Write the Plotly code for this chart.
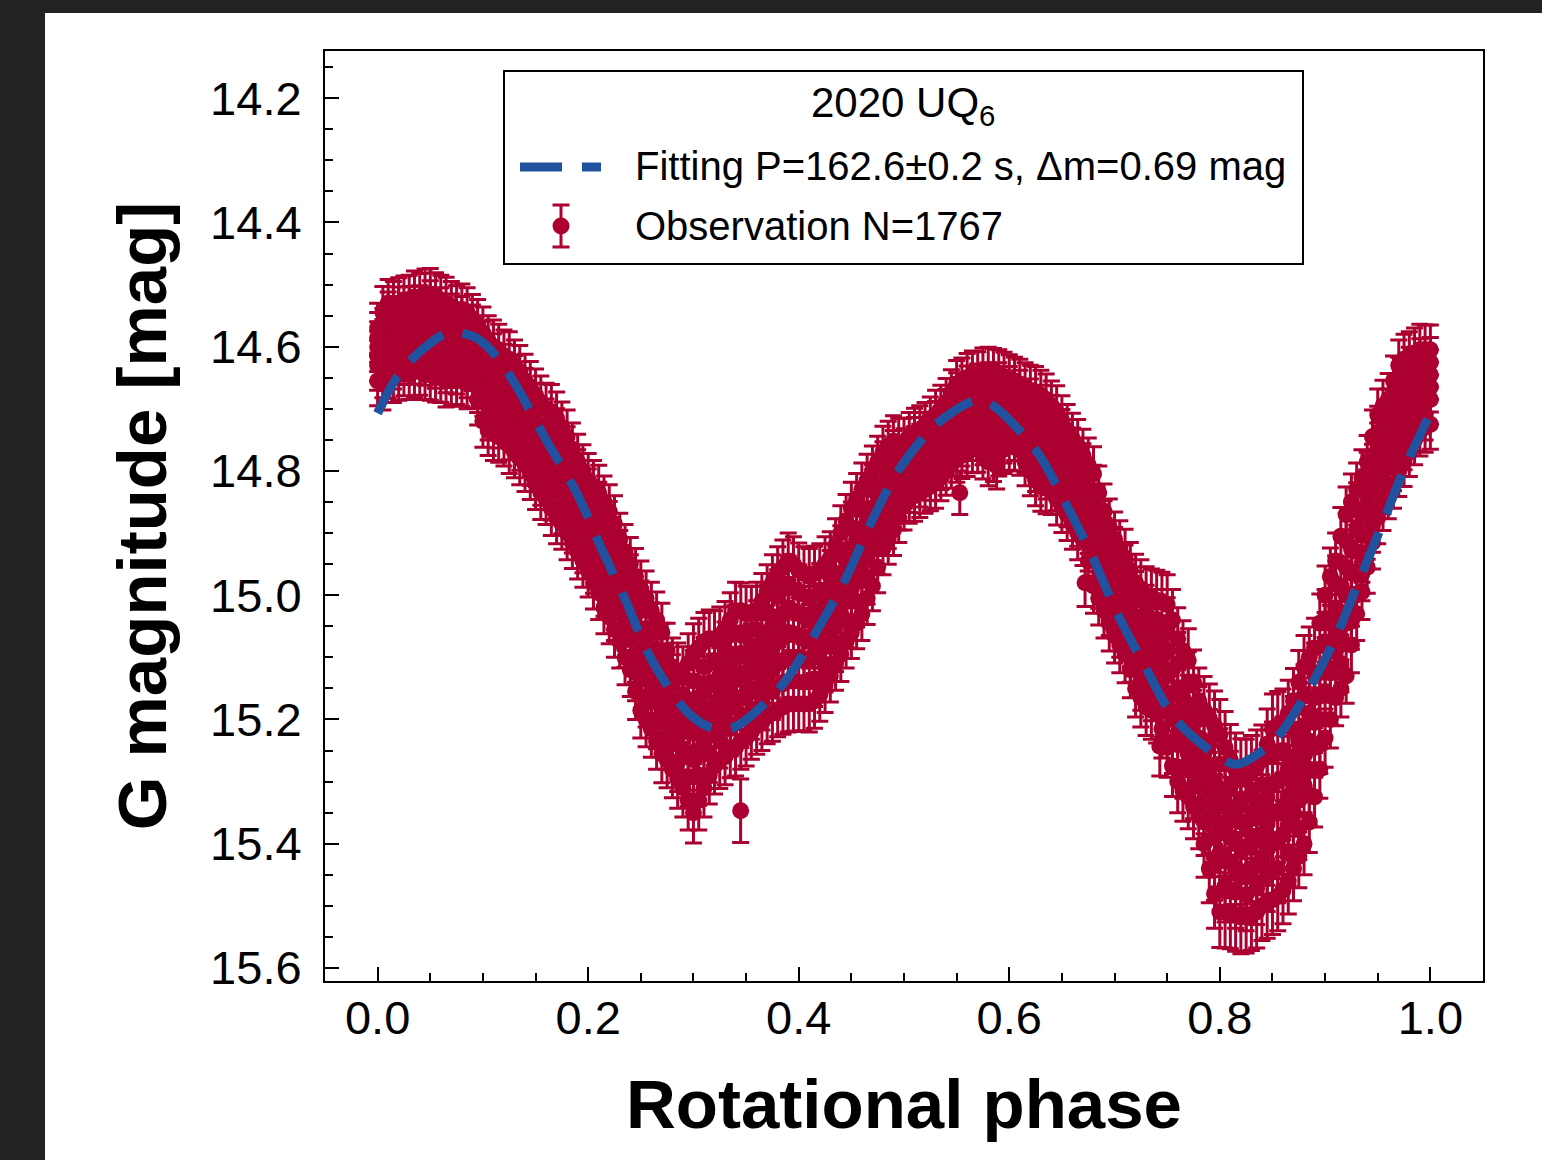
import plotly.graph_objects as go

# ---------------- light-curve data (2020 UQ6, folded on P = 162.6 s) ----------------
# Observations are grouped in phase columns; for each column the lists give the
# brightest, upper, middle, lower and faintest magnitudes seen at that phase,
# plus one more measurement inside the band.
obs_phase = [
    0.000, 0.005, 0.010, 0.015, 0.020, 0.025, 0.030, 0.035, 0.040, 0.045,
    0.050, 0.055, 0.060, 0.065, 0.070, 0.075, 0.080, 0.085, 0.090, 0.095,
    0.100, 0.105, 0.110, 0.115, 0.120, 0.125, 0.130, 0.135, 0.140, 0.145,
    0.150, 0.155, 0.160, 0.165, 0.170, 0.175, 0.180, 0.185, 0.190, 0.195,
    0.200, 0.205, 0.210, 0.215, 0.220, 0.225, 0.230, 0.235, 0.240, 0.245,
    0.250, 0.255, 0.260, 0.265, 0.270, 0.275, 0.280, 0.285, 0.290, 0.295,
    0.300, 0.305, 0.310, 0.315, 0.320, 0.325, 0.330, 0.335, 0.340, 0.345,
    0.350, 0.355, 0.360, 0.365, 0.370, 0.375, 0.380, 0.385, 0.390, 0.395,
    0.400, 0.405, 0.410, 0.415, 0.420, 0.425, 0.430, 0.435, 0.440, 0.445,
    0.450, 0.455, 0.460, 0.465, 0.470, 0.475, 0.480, 0.485, 0.490, 0.495,
    0.500, 0.505, 0.510, 0.515, 0.520, 0.525, 0.530, 0.535, 0.540, 0.545,
    0.550, 0.555, 0.560, 0.565, 0.570, 0.575, 0.580, 0.585, 0.590, 0.595,
    0.600, 0.605, 0.610, 0.615, 0.620, 0.625, 0.630, 0.635, 0.640, 0.645,
    0.650, 0.655, 0.660, 0.665, 0.670, 0.675, 0.680, 0.685, 0.690, 0.695,
    0.700, 0.705, 0.710, 0.715, 0.720, 0.725, 0.730, 0.735, 0.740, 0.745,
    0.750, 0.755, 0.760, 0.765, 0.770, 0.775, 0.780, 0.785, 0.790, 0.795,
    0.800, 0.805, 0.810, 0.815, 0.820, 0.825, 0.830, 0.835, 0.840, 0.845,
    0.850, 0.855, 0.860, 0.865, 0.870, 0.875, 0.880, 0.885, 0.890, 0.895,
    0.900, 0.905, 0.910, 0.915, 0.920, 0.925, 0.930, 0.935, 0.940, 0.945,
    0.950, 0.955, 0.960, 0.965, 0.970, 0.975, 0.980, 0.985, 0.990, 0.995,
    1.000,
]

obs_mag_top = [
    14.570, 14.545, 14.530, 14.535, 14.530, 14.525, 14.525, 14.520, 14.520, 14.515,
    14.515, 14.520, 14.525, 14.530, 14.535, 14.540, 14.540, 14.545, 14.555, 14.565,
    14.578, 14.590, 14.600, 14.605, 14.615, 14.620, 14.630, 14.640, 14.655, 14.665,
    14.678, 14.690, 14.700, 14.705, 14.715, 14.730, 14.745, 14.765, 14.785, 14.800,
    14.815, 14.825, 14.835, 14.850, 14.865, 14.885, 14.910, 14.930, 14.950, 14.970,
    14.990, 15.005, 15.025, 15.040, 15.060, 15.090, 15.115, 15.125, 15.130, 15.110,
    15.095, 15.085, 15.075, 15.070, 15.070, 15.065, 15.055, 15.040, 15.025, 15.025,
    15.030, 15.030, 15.025, 15.010, 14.995, 14.980, 14.965, 14.955, 14.945, 14.950,
    14.960, 14.965, 14.970, 14.965, 14.960, 14.950, 14.940, 14.920, 14.900, 14.880,
    14.860, 14.845, 14.830, 14.815, 14.800, 14.785, 14.770, 14.760, 14.752, 14.755,
    14.755, 14.745, 14.740, 14.735, 14.728, 14.720, 14.710, 14.700, 14.690, 14.675,
    14.660, 14.655, 14.650, 14.645, 14.645, 14.640, 14.640, 14.640, 14.643, 14.648,
    14.652, 14.655, 14.660, 14.665, 14.670, 14.673, 14.678, 14.685, 14.695, 14.705,
    14.720, 14.735, 14.748, 14.760, 14.775, 14.790, 14.805, 14.835, 14.865, 14.890,
    14.910, 14.925, 14.940, 14.960, 14.980, 14.990, 15.000, 15.005, 15.008, 15.010,
    15.015, 15.040, 15.070, 15.090, 15.105, 15.140, 15.170, 15.185, 15.198, 15.210,
    15.225, 15.245, 15.265, 15.280, 15.290, 15.290, 15.283, 15.275, 15.265, 15.240,
    15.215, 15.210, 15.205, 15.190, 15.170, 15.140, 15.115, 15.100, 15.085, 15.045,
    15.000, 14.970, 14.945, 14.905, 14.870, 14.850, 14.830, 14.810, 14.785, 14.745,
    14.710, 14.695, 14.685, 14.655, 14.630, 14.620, 14.615, 14.610, 14.605, 14.605,
    14.605,
]

obs_mag_upper = [
    14.600, 14.580, 14.570, 14.565, 14.560, 14.565, 14.560, 14.555, 14.560, 14.550,
    14.555, 14.560, 14.565, 14.570, 14.575, 14.580, 14.580, 14.585, 14.590, 14.600,
    14.625, 14.635, 14.645, 14.655, 14.660, 14.665, 14.680, 14.690, 14.700, 14.715,
    14.725, 14.740, 14.750, 14.760, 14.770, 14.785, 14.800, 14.815, 14.835, 14.850,
    14.865, 14.875, 14.890, 14.905, 14.920, 14.940, 14.965, 14.985, 15.005, 15.030,
    15.055, 15.070, 15.090, 15.105, 15.125, 15.150, 15.170, 15.180, 15.190, 15.180,
    15.180, 15.165, 15.155, 15.145, 15.140, 15.130, 15.120, 15.110, 15.100, 15.095,
    15.095, 15.090, 15.085, 15.075, 15.060, 15.050, 15.040, 15.030, 15.020, 15.025,
    15.030, 15.035, 15.040, 15.030, 15.025, 15.015, 15.000, 14.985, 14.965, 14.945,
    14.925, 14.910, 14.895, 14.880, 14.860, 14.840, 14.820, 14.810, 14.800, 14.795,
    14.790, 14.780, 14.770, 14.765, 14.760, 14.750, 14.745, 14.735, 14.725, 14.710,
    14.700, 14.695, 14.690, 14.685, 14.685, 14.685, 14.690, 14.685, 14.685, 14.690,
    14.690, 14.690, 14.695, 14.705, 14.715, 14.720, 14.725, 14.735, 14.740, 14.755,
    14.765, 14.780, 14.795, 14.805, 14.820, 14.840, 14.865, 14.890, 14.920, 14.940,
    14.960, 14.975, 14.990, 15.015, 15.035, 15.050, 15.060, 15.065, 15.070, 15.080,
    15.090, 15.120, 15.150, 15.165, 15.180, 15.205, 15.230, 15.255, 15.280, 15.300,
    15.320, 15.335, 15.350, 15.360, 15.365, 15.365, 15.360, 15.355, 15.345, 15.325,
    15.305, 15.300, 15.295, 15.280, 15.260, 15.235, 15.210, 15.190, 15.165, 15.125,
    15.075, 15.045, 15.020, 14.985, 14.955, 14.925, 14.895, 14.870, 14.840, 14.800,
    14.765, 14.750, 14.735, 14.710, 14.685, 14.675, 14.665, 14.655, 14.650, 14.645,
    14.645,
]

obs_mag_middle = [
    14.615, 14.598, 14.590, 14.587, 14.578, 14.585, 14.582, 14.574, 14.578, 14.577,
    14.578, 14.583, 14.588, 14.590, 14.596, 14.600, 14.601, 14.605, 14.610, 14.622,
    14.648, 14.660, 14.670, 14.678, 14.683, 14.690, 14.702, 14.712, 14.722, 14.738,
    14.750, 14.765, 14.775, 14.785, 14.797, 14.810, 14.825, 14.840, 14.860, 14.875,
    14.890, 14.902, 14.918, 14.935, 14.950, 14.970, 14.992, 15.015, 15.035, 15.062,
    15.088, 15.102, 15.122, 15.138, 15.158, 15.178, 15.198, 15.210, 15.220, 15.218,
    15.222, 15.208, 15.195, 15.182, 15.175, 15.165, 15.155, 15.145, 15.135, 15.130,
    15.128, 15.122, 15.118, 15.108, 15.095, 15.085, 15.075, 15.068, 15.060, 15.062,
    15.065, 15.070, 15.072, 15.065, 15.058, 15.048, 15.032, 15.018, 14.998, 14.978,
    14.958, 14.942, 14.930, 14.910, 14.890, 14.868, 14.845, 14.835, 14.825, 14.815,
    14.805, 14.795, 14.788, 14.782, 14.778, 14.770, 14.765, 14.755, 14.745, 14.730,
    14.720, 14.715, 14.710, 14.705, 14.705, 14.708, 14.715, 14.710, 14.708, 14.710,
    14.708, 14.708, 14.712, 14.725, 14.738, 14.745, 14.750, 14.758, 14.762, 14.778,
    14.788, 14.802, 14.818, 14.830, 14.842, 14.865, 14.895, 14.920, 14.948, 14.968,
    14.988, 15.002, 15.018, 15.042, 15.065, 15.080, 15.090, 15.095, 15.100, 15.115,
    15.130, 15.160, 15.188, 15.202, 15.218, 15.240, 15.262, 15.292, 15.320, 15.345,
    15.368, 15.380, 15.390, 15.400, 15.405, 15.405, 15.400, 15.395, 15.385, 15.368,
    15.352, 15.348, 15.340, 15.325, 15.305, 15.282, 15.258, 15.235, 15.205, 15.162,
    15.115, 15.085, 15.055, 15.028, 15.000, 14.965, 14.930, 14.902, 14.870, 14.830,
    14.792, 14.775, 14.760, 14.738, 14.715, 14.702, 14.692, 14.680, 14.670, 14.668,
    14.665,
]

obs_mag_lower = [
    14.630, 14.620, 14.610, 14.605, 14.600, 14.605, 14.600, 14.595, 14.600, 14.600,
    14.600, 14.605, 14.610, 14.610, 14.615, 14.620, 14.620, 14.625, 14.630, 14.645,
    14.670, 14.685, 14.695, 14.700, 14.705, 14.715, 14.725, 14.735, 14.745, 14.760,
    14.775, 14.790, 14.800, 14.810, 14.825, 14.835, 14.850, 14.865, 14.885, 14.900,
    14.915, 14.930, 14.945, 14.965, 14.980, 15.000, 15.020, 15.045, 15.065, 15.095,
    15.120, 15.135, 15.155, 15.170, 15.190, 15.205, 15.225, 15.240, 15.250, 15.255,
    15.265, 15.250, 15.235, 15.220, 15.210, 15.200, 15.190, 15.180, 15.170, 15.165,
    15.160, 15.155, 15.150, 15.140, 15.130, 15.120, 15.110, 15.105, 15.100, 15.100,
    15.100, 15.105, 15.105, 15.100, 15.090, 15.080, 15.065, 15.050, 15.030, 15.010,
    14.990, 14.975, 14.965, 14.940, 14.920, 14.895, 14.870, 14.860, 14.850, 14.835,
    14.820, 14.810, 14.805, 14.800, 14.795, 14.790, 14.785, 14.775, 14.765, 14.750,
    14.740, 14.735, 14.730, 14.725, 14.725, 14.730, 14.740, 14.735, 14.730, 14.730,
    14.725, 14.727, 14.730, 14.745, 14.760, 14.770, 14.775, 14.780, 14.785, 14.800,
    14.810, 14.825, 14.840, 14.855, 14.865, 14.890, 14.925, 14.950, 14.975, 14.995,
    15.015, 15.030, 15.045, 15.070, 15.095, 15.110, 15.120, 15.125, 15.130, 15.150,
    15.170, 15.200, 15.225, 15.240, 15.255, 15.275, 15.295, 15.330, 15.360, 15.390,
    15.415, 15.425, 15.430, 15.440, 15.445, 15.445, 15.440, 15.435, 15.425, 15.410,
    15.400, 15.395, 15.385, 15.370, 15.350, 15.330, 15.305, 15.280, 15.245, 15.200,
    15.155, 15.125, 15.090, 15.070, 15.045, 15.005, 14.965, 14.935, 14.900, 14.860,
    14.820, 14.800, 14.785, 14.765, 14.745, 14.730, 14.720, 14.705, 14.690, 14.690,
    14.685,
]

obs_mag_bottom = [
    14.655, 14.660, 14.645, 14.650, 14.645, 14.640, 14.645, 14.640, 14.640, 14.645,
    14.645, 14.650, 14.650, 14.655, 14.655, 14.655, 14.655, 14.660, 14.660, 14.685,
    14.720, 14.735, 14.740, 14.745, 14.750, 14.760, 14.770, 14.780, 14.790, 14.805,
    14.820, 14.835, 14.845, 14.860, 14.875, 14.885, 14.900, 14.915, 14.930, 14.945,
    14.960, 14.980, 14.995, 15.020, 15.035, 15.055, 15.075, 15.100, 15.120, 15.155,
    15.185, 15.200, 15.215, 15.235, 15.255, 15.265, 15.280, 15.295, 15.310, 15.330,
    15.350, 15.330, 15.310, 15.290, 15.275, 15.265, 15.260, 15.250, 15.245, 15.235,
    15.230, 15.220, 15.210, 15.205, 15.195, 15.190, 15.185, 15.180, 15.175, 15.175,
    15.175, 15.175, 15.175, 15.170, 15.160, 15.145, 15.130, 15.110, 15.095, 15.075,
    15.060, 15.045, 15.030, 15.005, 14.985, 14.955, 14.925, 14.910, 14.895, 14.875,
    14.855, 14.845, 14.840, 14.835, 14.830, 14.825, 14.820, 14.810, 14.800, 14.790,
    14.780, 14.775, 14.770, 14.765, 14.765, 14.775, 14.785, 14.780, 14.770, 14.765,
    14.760, 14.762, 14.767, 14.785, 14.800, 14.815, 14.825, 14.828, 14.830, 14.845,
    14.858, 14.870, 14.885, 14.900, 14.910, 14.945, 14.985, 15.005, 15.025, 15.045,
    15.065, 15.080, 15.095, 15.120, 15.150, 15.165, 15.180, 15.185, 15.190, 15.215,
    15.245, 15.275, 15.300, 15.315, 15.325, 15.340, 15.355, 15.400, 15.440, 15.480,
    15.510, 15.510, 15.512, 15.515, 15.518, 15.518, 15.515, 15.510, 15.500, 15.495,
    15.490, 15.485, 15.475, 15.460, 15.440, 15.420, 15.400, 15.365, 15.325, 15.280,
    15.230, 15.200, 15.165, 15.150, 15.130, 15.080, 15.030, 14.995, 14.955, 14.915,
    14.875, 14.855, 14.835, 14.820, 14.800, 14.785, 14.770, 14.750, 14.735, 14.730,
    14.725,
]

obs_mag_inner = [
    14.585, 14.640, 14.550, 14.628, 14.545, 14.622, 14.543, 14.618, 14.540, 14.622,
    14.535, 14.628, 14.545, 14.632, 14.555, 14.638, 14.560, 14.642, 14.572, 14.665,
    14.601, 14.710, 14.622, 14.722, 14.638, 14.738, 14.655, 14.757, 14.678, 14.782,
    14.701, 14.812, 14.725, 14.835, 14.742, 14.860, 14.772, 14.890, 14.810, 14.922,
    14.840, 14.955, 14.862, 14.992, 14.892, 15.028, 14.938, 15.072, 14.978, 15.125,
    15.022, 15.168, 15.058, 15.202, 15.092, 15.235, 15.142, 15.268, 15.160, 15.292,
    15.138, 15.290, 15.115, 15.255, 15.105, 15.232, 15.088, 15.215, 15.062, 15.200,
    15.062, 15.188, 15.055, 15.172, 15.028, 15.155, 15.002, 15.142, 14.982, 15.138,
    14.995, 15.140, 15.005, 15.135, 14.992, 15.112, 14.970, 15.080, 14.932, 15.042,
    14.892, 15.010, 14.862, 14.972, 14.830, 14.925, 14.795, 14.885, 14.776, 14.855,
    14.772, 14.828, 14.755, 14.818, 14.744, 14.808, 14.728, 14.792, 14.708, 14.770,
    14.680, 14.755, 14.670, 14.745, 14.665, 14.752, 14.665, 14.758, 14.664, 14.748,
    14.671, 14.745, 14.678, 14.765, 14.692, 14.792, 14.702, 14.804, 14.718, 14.822,
    14.742, 14.848, 14.772, 14.878, 14.798, 14.918, 14.835, 14.978, 14.892, 15.020,
    14.935, 15.055, 14.965, 15.095, 15.008, 15.138, 15.030, 15.155, 15.039, 15.182,
    15.052, 15.238, 15.110, 15.278, 15.142, 15.308, 15.200, 15.365, 15.239, 15.435,
    15.272, 15.468, 15.308, 15.478, 15.328, 15.482, 15.322, 15.472, 15.305, 15.452,
    15.260, 15.440, 15.250, 15.415, 15.215, 15.375, 15.162, 15.322, 15.125, 15.240,
    15.038, 15.162, 14.982, 15.110, 14.912, 15.042, 14.862, 14.965, 14.812, 14.888,
    14.738, 14.828, 14.710, 14.792, 14.658, 14.758, 14.640, 14.728, 14.628, 14.710,
    14.625,
]

obs_err = [
    0.040, 0.042, 0.038, 0.040, 0.041, 0.039, 0.040, 0.042, 0.038, 0.040,
    0.041, 0.039, 0.040, 0.042, 0.040, 0.038, 0.041, 0.040, 0.039, 0.041,
    0.042, 0.040, 0.043, 0.041, 0.042, 0.044, 0.041, 0.042, 0.043, 0.041,
    0.042, 0.043, 0.041, 0.044, 0.042, 0.041, 0.043, 0.042, 0.044, 0.042,
    0.043, 0.042, 0.044, 0.042, 0.043, 0.045, 0.042, 0.044, 0.043, 0.045,
    0.045, 0.044, 0.046, 0.045, 0.047, 0.045, 0.046, 0.048, 0.047, 0.048,
    0.049, 0.048, 0.047, 0.046, 0.045, 0.046, 0.045, 0.044, 0.046, 0.045,
    0.045, 0.044, 0.046, 0.045, 0.044, 0.045, 0.043, 0.044, 0.045, 0.044,
    0.044, 0.043, 0.045, 0.044, 0.043, 0.044, 0.042, 0.043, 0.044, 0.042,
    0.042, 0.041, 0.043, 0.042, 0.040, 0.041, 0.042, 0.040, 0.041, 0.040,
    0.040, 0.039, 0.041, 0.040, 0.038, 0.039, 0.040, 0.038, 0.039, 0.038,
    0.038, 0.037, 0.039, 0.038, 0.037, 0.038, 0.039, 0.037, 0.038, 0.039,
    0.039, 0.038, 0.040, 0.039, 0.040, 0.041, 0.040, 0.041, 0.040, 0.042,
    0.041, 0.042, 0.041, 0.043, 0.042, 0.043, 0.044, 0.043, 0.044, 0.045,
    0.044, 0.045, 0.046, 0.045, 0.046, 0.047, 0.046, 0.047, 0.048, 0.047,
    0.048, 0.049, 0.050, 0.049, 0.051, 0.052, 0.053, 0.054, 0.055, 0.056,
    0.057, 0.058, 0.057, 0.058, 0.059, 0.058, 0.057, 0.058, 0.056, 0.057,
    0.056, 0.055, 0.054, 0.053, 0.052, 0.051, 0.050, 0.049, 0.048, 0.047,
    0.047, 0.046, 0.045, 0.046, 0.044, 0.045, 0.043, 0.044, 0.042, 0.043,
    0.042, 0.041, 0.042, 0.040, 0.041, 0.040, 0.039, 0.040, 0.041, 0.040,
    0.040,
]

# Isolated measurements lying away from the main band
stray_phase = [0.3448, 0.553, 0.588, 0.672, 0.743]
stray_mag = [15.347, 14.835, 14.792, 14.980, 15.243]
stray_err = [0.051, 0.035, 0.037, 0.038, 0.048]

# Fourier-series fit to the folded light curve
fit_phase = [0.000, 0.020, 0.045, 0.068, 0.094, 0.113, 0.132, 0.160, 0.189, 0.214,
             0.236, 0.259, 0.293, 0.316, 0.332, 0.344, 0.385, 0.419, 0.445, 0.469,
             0.496, 0.532, 0.569, 0.583, 0.625, 0.653, 0.679, 0.702, 0.729, 0.758,
             0.800, 0.816, 0.851, 0.883, 0.910, 0.932, 0.954, 0.975, 1.000]
fit_mag = [14.707, 14.645, 14.601, 14.577, 14.586, 14.616, 14.664, 14.750, 14.835, 14.930,
           15.010, 15.100, 15.186, 15.213, 15.215, 15.208, 15.143, 15.052, 14.972, 14.882,
           14.796, 14.723, 14.686, 14.693, 14.766, 14.850, 14.938, 15.027, 15.115, 15.200,
           15.261, 15.272, 15.235, 15.156, 15.068, 14.978, 14.887, 14.798, 14.707]

x_ticks = [0.0, 0.2, 0.4, 0.6, 0.8, 1.0]
x_tick_labels = ["0.0", "0.2", "0.4", "0.6", "0.8", "1.0"]
y_ticks = [14.2, 14.4, 14.6, 14.8, 15.0, 15.2, 15.4, 15.6]
y_tick_labels = ["14.2", "14.4", "14.6", "14.8", "15.0", "15.2", "15.4", "15.6"]

legend_title = "2020 UQ<sub>6</sub>"
fit_label = "Fitting P=162.6±0.2 s, Δm=0.69 mag"
obs_label = "Observation N=1767"

# ---------------- styling ----------------
RED = "#AC0030"
BLUE = "#2152A0"
FONT = "Liberation Sans, Arial, Helvetica, sans-serif"
W, H = 1542, 1160
ML, MR, MT, MB = 325, 59, 51, 179
PW = W - ML - MR
PH = H - MT - MB


def px(x):
    """Figure pixel column -> paper x."""
    return (x - ML) / PW


def py(y):
    """Figure pixel row -> paper y."""
    return (H - MB - y) / PH


# Gather all observation columns into one error-bar series
ph, mag, err = [], [], []
for row in (obs_mag_top, obs_mag_upper, obs_mag_middle, obs_mag_lower,
            obs_mag_bottom, obs_mag_inner):
    ph += obs_phase
    mag += row
    err += obs_err
ph += stray_phase
mag += stray_mag
err += stray_err

fig = go.Figure()
fig.add_trace(go.Scatter(
    x=ph, y=mag, mode="markers",
    marker=dict(size=17, color=RED, line=dict(width=0)),
    error_y=dict(type="data", array=err, visible=True, color=RED, thickness=3, width=8.5),
    showlegend=False, hoverinfo="skip",
))
fig.add_trace(go.Scatter(
    x=fit_phase, y=fit_mag, mode="lines",
    line=dict(color=BLUE, width=9, dash="42px,20px", shape="spline", smoothing=0.9),
    showlegend=False, hoverinfo="skip",
))

axis_common = dict(
    showline=True, linecolor="black", linewidth=2, mirror=True,
    ticks="inside", ticklen=14, tickwidth=2, tickcolor="black",
    showgrid=False, zeroline=False,
    tickfont=dict(family=FONT, size=47, color="black"),
)

fig.update_xaxes(
    range=[-0.05, 1.05], tickmode="array", tickvals=x_ticks, ticktext=x_tick_labels,
    minor=dict(tickmode="linear", tick0=0, dtick=0.05, ticks="inside", ticklen=8,
               tickwidth=2, tickcolor="black", showgrid=False),
    ticklabelstandoff=-5,
    title=dict(text="<b>Rotational phase</b>", font=dict(family=FONT, size=69, color="black"),
               standoff=36),
    **axis_common,
)
fig.update_yaxes(
    range=[15.621, 14.124], tickmode="array", tickvals=y_ticks, ticktext=y_tick_labels,
    minor=dict(tickmode="linear", tick0=14.2, dtick=0.05, ticks="inside", ticklen=8,
               tickwidth=2, tickcolor="black", showgrid=False),
    ticklabelstandoff=12,
    title=dict(text="<b>G magnitude [mag]</b>", font=dict(family=FONT, size=69, color="black"),
               standoff=21),
    **axis_common,
)

shapes = [
    # dark surround on the left and top edges
    dict(type="rect", xref="paper", yref="paper", x0=px(-10), x1=px(45), y0=py(H + 10), y1=py(-10),
         fillcolor="#222222", line=dict(width=0), layer="above"),
    dict(type="rect", xref="paper", yref="paper", x0=px(-10), x1=px(W + 10), y0=py(13), y1=py(-10),
         fillcolor="#222222", line=dict(width=0), layer="above"),
    # legend frame
    dict(type="rect", xref="paper", yref="paper", x0=px(504), x1=px(1303), y0=py(264), y1=py(71),
         fillcolor="white", line=dict(color="black", width=2), layer="above"),
    # legend key: dashed fit line
    dict(type="line", xref="paper", yref="paper", x0=px(520), x1=px(601), y0=py(167), y1=py(167),
         line=dict(color=BLUE, width=9, dash="42px,20px"), layer="above"),
    # legend key: observation marker with error bar
    dict(type="line", xref="paper", yref="paper", x0=px(561), x1=px(561), y0=py(205), y1=py(247),
         line=dict(color=RED, width=3), layer="above"),
    dict(type="line", xref="paper", yref="paper", x0=px(552.5), x1=px(569.5), y0=py(205), y1=py(205),
         line=dict(color=RED, width=3), layer="above"),
    dict(type="line", xref="paper", yref="paper", x0=px(552.5), x1=px(569.5), y0=py(247), y1=py(247),
         line=dict(color=RED, width=3), layer="above"),
    dict(type="circle", xref="paper", yref="paper", x0=px(552.5), x1=px(569.5), y0=py(234.5), y1=py(217.5),
         fillcolor=RED, line=dict(width=0), layer="above"),
]

legend_font = dict(family=FONT, size=40, color="black")
annotations = [
    dict(text=legend_title, x=px(903), y=py(106), xref="paper", yref="paper",
         xanchor="center", yanchor="middle", showarrow=False,
         font=dict(family=FONT, size=42, color="black")),
    dict(text=fit_label, x=px(633), y=py(166), xref="paper", yref="paper",
         xanchor="left", yanchor="middle", showarrow=False, font=legend_font),
    dict(text=obs_label, x=px(633), y=py(226), xref="paper", yref="paper",
         xanchor="left", yanchor="middle", showarrow=False, font=legend_font),
]

fig.update_layout(
    width=W, height=H,
    margin=dict(l=ML, r=MR, t=MT, b=MB, autoexpand=False),
    paper_bgcolor="white", plot_bgcolor="white",
    shapes=shapes, annotations=annotations,
    showlegend=False,
)

fig.write_html("out.html")
